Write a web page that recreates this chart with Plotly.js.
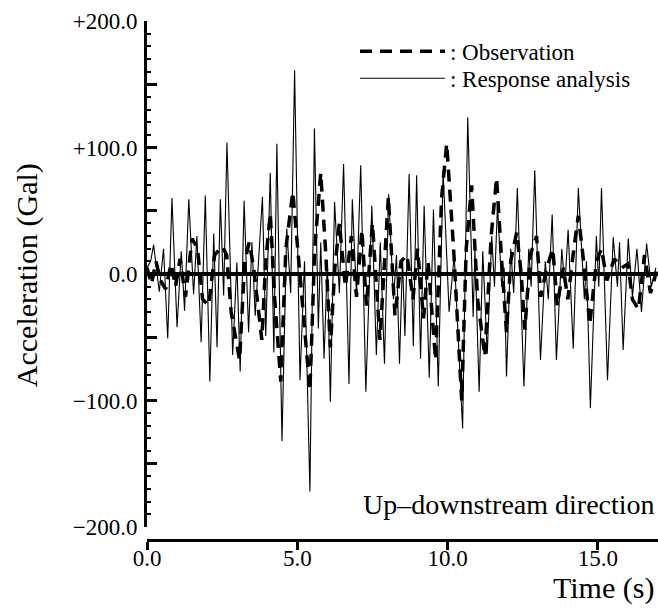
<!DOCTYPE html>
<html>
<head>
<meta charset="utf-8">
<script src="https://cdn.plot.ly/plotly-3.0.1.min.js"></script>
<style>
  html, body { margin: 0; padding: 0; background: #fff; }
  #chart { width: 658px; height: 613px; }
</style>
</head>
<body>
<div id="chart"></div>
<script>
// ---- Data (time in s, acceleration in Gal) ----
const obsTime = [0.00,0.15,0.30,0.45,0.62,0.80,0.95,1.10,1.28,1.50,1.68,1.85,2.05,2.25,2.50,2.65,2.80,3.08,3.25,3.40,3.55,3.82,3.95,4.10,4.25,4.45,4.62,4.85,5.05,5.25,5.42,5.58,5.78,5.95,6.10,6.25,6.40,6.60,6.80,6.97,7.15,7.30,7.50,7.75,7.90,8.03,8.25,8.45,8.65,8.85,9.00,9.20,9.35,9.60,9.80,9.97,10.20,10.47,10.62,10.80,11.00,11.24,11.45,11.63,11.80,11.96,12.10,12.30,12.45,12.57,12.75,12.96,13.10,13.30,13.50,13.65,13.85,14.00,14.20,14.35,14.55,14.73,14.95,15.12,15.30,15.55,15.80,16.00,16.15,16.35,16.55,16.75,16.95];
const obsAccel = [5,-8,10,-5,-12,8,-10,12,-18,28,20,-20,-25,15,22,15,-30,-68,10,25,5,-52,10,48,-20,-85,20,65,10,-45,-92,20,80,15,-58,5,40,-10,30,-18,35,-25,40,-52,5,61,-33,10,15,-20,20,-35,10,-68,60,103,20,-100,20,70,-20,-65,30,76,10,-46,10,33,0,-44,15,30,-18,5,20,-25,5,-20,20,46,5,-40,10,20,-5,12,5,8,-20,-28,15,-15,2];

const respTime = [0.00,0.12,0.22,0.41,0.55,0.69,0.83,1.00,1.14,1.25,1.39,1.55,1.66,1.80,1.94,2.09,2.22,2.33,2.44,2.55,2.66,2.85,2.99,3.10,3.23,3.38,3.49,3.60,3.84,3.95,4.10,4.22,4.32,4.49,4.65,4.78,4.91,5.09,5.24,5.42,5.57,5.70,5.78,5.89,6.00,6.10,6.24,6.40,6.54,6.72,6.83,6.97,7.11,7.28,7.48,7.63,7.76,7.90,8.04,8.20,8.30,8.40,8.50,8.58,8.72,8.86,8.97,9.10,9.22,9.39,9.53,9.69,9.85,10.05,10.22,10.50,10.67,10.85,10.91,11.05,11.17,11.32,11.47,11.56,11.66,11.80,11.88,11.96,12.10,12.20,12.32,12.54,12.70,12.78,12.90,13.09,13.25,13.35,13.48,13.62,13.80,13.90,14.01,14.18,14.35,14.55,14.62,14.75,14.95,15.03,15.12,15.32,15.51,15.65,15.72,15.84,16.01,16.15,16.30,16.45,16.62,16.78,16.93];
const respAccel = [5,10,23,-14,20,-51,60,-42,18,-29,59,-16,30,-54,62,-85,32,-58,59,-17,104,-64,9,-77,58,-46,25,-33,61,-49,80,-62,103,-132,36,-15,161,-84,10,-172,115,-43,25,-67,10,-101,57,-15,87,-87,59,-17,86,-93,54,-64,25,-71,63,-20,15,-71,12,-49,79,-57,78,-67,54,-82,51,-89,82,-30,15,-122,124,-34,19,-93,18,-63,30,-10,55,-10,5,-81,20,-15,68,-89,20,-10,82,-68,10,-20,47,-68,20,-10,35,-59,68,-20,10,-106,30,-10,68,-84,29,-10,25,-60,28,-18,20,-30,24,-10,5];

const xTickVals = [0, 5, 10, 15];
const xTickText = ["0.0", "5.0", "10.0", "15.0"];
const yTickVals = [-200, -150, -100, -50, 0, 50, 100, 150, 200];
const yTickText = ["\u2212200.0", "", "\u2212100.0", "", "0.0", "", "+100.0", "", "+200.0"];

const serif = '"Liberation Serif", "Times New Roman", Times, serif';

const traces = [
  {
    x: obsTime, y: obsAccel, type: 'scatter', mode: 'lines',
    name: ': Observation', legend: 'legend',
    line: { color: '#000', width: 3.5, dash: '12px,8px' }
  },
  {
    x: respTime, y: respAccel, type: 'scatter', mode: 'lines',
    name: ': Response analysis', legend: 'legend2',
    line: { color: '#000', width: 1.1 }
  }
];

const legendFont = { family: serif, size: 23, color: '#000' };

const layout = {
  width: 658, height: 613,
  margin: { l: 147, r: 0, t: 21, b: 73, pad: 0 },
  paper_bgcolor: '#fff', plot_bgcolor: '#fff',
  font: { family: serif, color: '#000', size: 23 },
  showlegend: true,
  legend: {
    x: 0.407, xanchor: 'left', y: 0.983, yanchor: 'top',
    bgcolor: 'rgba(0,0,0,0)', borderwidth: 0,
    font: legendFont, itemwidth: 85
  },
  legend2: {
    x: 0.407, xanchor: 'left', y: 0.931, yanchor: 'top',
    bgcolor: 'rgba(0,0,0,0)', borderwidth: 0,
    font: legendFont, itemwidth: 85
  },
  xaxis: {
    range: [0, 17], anchor: 'free', position: 0,
    showgrid: false, zeroline: false,
    showline: true, linecolor: '#000', linewidth: 3,
    ticks: 'outside', ticklen: 8, tickwidth: 3, tickcolor: '#000',
    tickmode: 'array', tickvals: xTickVals, ticktext: xTickText,
    ticklabelstandoff: -12,
    tickfont: { family: serif, size: 23, color: '#000' }
  },
  yaxis: {
    range: [-200, 200], domain: [0.025, 1], anchor: 'x',
    showgrid: false,
    zeroline: true, zerolinecolor: '#000', zerolinewidth: 3.5,
    showline: true, linecolor: '#000', linewidth: 3,
    ticks: 'inside', ticklen: 10, tickwidth: 3, tickcolor: '#000',
    tickmode: 'array', tickvals: yTickVals, ticktext: yTickText,
    ticklabelstandoff: 2,
    minor: { ticks: 'inside', dtick: 10, ticklen: 4, tickwidth: 2, tickcolor: '#000' },
    tickfont: { family: serif, size: 23, color: '#000' }
  },
  annotations: [
    {
      text: 'Acceleration (Gal)', textangle: -90,
      xref: 'paper', yref: 'paper', x: -0.235, y: 0.51,
      xanchor: 'center', yanchor: 'middle', showarrow: false,
      font: { family: serif, size: 30, color: '#000' }
    },
    {
      text: 'Time (s)',
      xref: 'paper', yref: 'paper', x: 0.996, y: -0.093,
      xanchor: 'right', yanchor: 'middle', showarrow: false,
      font: { family: serif, size: 30, color: '#000' }
    },
    {
      text: 'Up\u2013downstream direction',
      xref: 'paper', yref: 'paper', x: 0.998, y: 0.069,
      xanchor: 'right', yanchor: 'middle', showarrow: false,
      font: { family: serif, size: 28, color: '#000' }
    }
  ]
};

Plotly.newPlot('chart', traces, layout, { displayModeBar: false, staticPlot: true });
</script>
</body>
</html>
